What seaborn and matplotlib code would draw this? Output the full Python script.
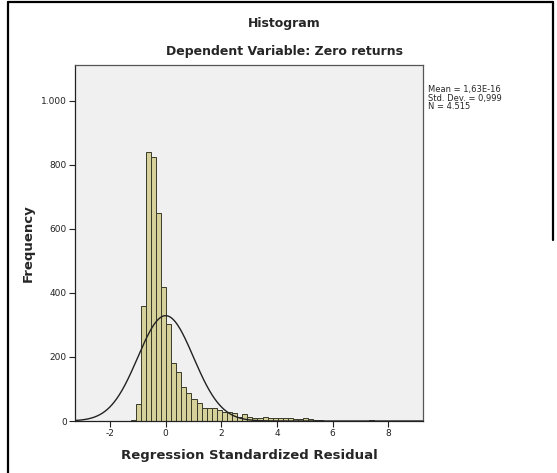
import numpy as np
import pandas as pd
import matplotlib
matplotlib.use("Agg")
import matplotlib.pyplot as plt
from matplotlib.lines import Line2D
import seaborn as sns

# Histogram of regression standardized residuals
bin_start = -1.445
bin_width = 0.1825
counts = [1, 3, 53, 358, 841, 825, 649, 420, 302, 180, 152, 105, 87, 69, 55,
          41, 41, 41, 35, 29, 29, 24, 14, 21, 12, 9, 8, 13, 10, 9, 10, 9, 8,
          7, 7, 8, 5, 4, 2, 1, 1, 0, 1, 0, 0, 1, 0, 0, 2]

resid_mean = 1.63e-16
resid_sd = 0.999
n_obs = 4515

x_ticks = [-2, 0, 2, 4, 6, 8]
y_ticks = [0, 200, 400, 600, 800, 1000]
y_tick_labels = ["0", "200", "400", "600", "800", "1.000"]

edges = bin_start + bin_width * np.arange(len(counts) + 1)
centers = (edges[:-1] + edges[1:]) / 2
df = pd.DataFrame({"residual": centers, "count": counts})

sns.set_style("white")
plt.rcParams["font.family"] = ["DejaVu Sans"]

fig = plt.figure(figsize=(5.57, 4.73), dpi=100)
ax = fig.add_axes([0.1346, 0.1099, 0.6248, 0.7527])
ax.set_facecolor("#f0f0f0")

sns.histplot(data=df, x="residual", weights="count", bins=list(edges), ax=ax,
             color="#d6d09a", alpha=1.0, edgecolor="#3a3a2a", linewidth=0.7)

ax.set_xlim(-3.26, 9.25)
ax.set_ylim(0, 1112)

# Normal curve scaled to the histogram
xs = np.linspace(-3.26, 9.25, 600)
pdf = np.exp(-0.5 * ((xs - resid_mean) / resid_sd) ** 2) / (resid_sd * np.sqrt(2 * np.pi))
ax.plot(xs, pdf * n_obs * bin_width, color="#222222", linewidth=1.0)

ax.set_xticks(x_ticks)
ax.set_xticklabels([str(t) for t in x_ticks])
ax.set_yticks(y_ticks)
ax.set_yticklabels(y_tick_labels)
ax.tick_params(axis="both", direction="out", length=4, width=0.8,
               labelsize=6.5, colors="#222222", pad=2, bottom=True, left=True)

for side in ["left", "bottom", "right", "top"]:
    ax.spines[side].set_visible(True)
    ax.spines[side].set_color("#555555")
    ax.spines[side].set_linewidth(0.9)
ax.spines["left"].set_color("#222222")
ax.spines["bottom"].set_color("#222222")

ax.set_xlabel("Regression Standardized Residual", fontsize=9.5,
              fontweight="bold")
ax.set_ylabel("Frequency", fontsize=9.5, fontweight="bold")
ax.xaxis.set_label_coords(0.5, -0.098)
ax.yaxis.set_label_coords(-0.135, 0.5)
ax.xaxis.label.set_va("center")
ax.yaxis.label.set_va("center")

fig.text(284 / 557, 1 - 24 / 473, "Histogram", ha="center", va="center",
         fontsize=9, fontweight="bold")
fig.text(284 / 557, 1 - 52 / 473, "Dependent Variable: Zero returns",
         ha="center", va="center", fontsize=9, fontweight="bold")

fig.text(428 / 557, 1 - 85 / 473,
         "Mean = 1,63E-16\nStd. Dev. = 0,999\nN = 4.515",
         ha="left", va="top", fontsize=6, linespacing=0.95)

# Outer frame around the chart
frame_kw = dict(color="black", linewidth=1.6, transform=fig.transFigure)
fig.add_artist(Line2D([8 / 557, 8 / 557], [0, 1 - 2 / 473], **frame_kw))
fig.add_artist(Line2D([8 / 557, 553 / 557], [1 - 2 / 473, 1 - 2 / 473], **frame_kw))
fig.add_artist(Line2D([553 / 557, 553 / 557], [1 - 240 / 473, 1 - 2 / 473], **frame_kw))

fig.savefig("out.png", dpi=100, facecolor="white")
